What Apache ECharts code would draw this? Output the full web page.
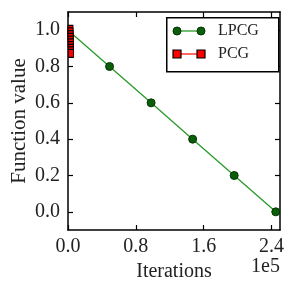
<!DOCTYPE html>
<html><head><meta charset="utf-8">
<script src="https://cdn.jsdelivr.net/npm/echarts@6/dist/echarts.min.js"></script>
<style>html,body{margin:0;padding:0;background:#fff}#c{width:296px;height:291px}</style>
</head><body><div id="c"></div>
<script>
const lpcgX = [0, 49000, 98000, 147000, 196000, 245000];
const lpcgY = [1.0, 0.8, 0.6, 0.4, 0.2, 0.0];
const pcgX = [0, 60, 120, 180, 240, 300, 360, 420, 480, 540];
const pcgY = [1.005, 0.99, 0.975, 0.96, 0.945, 0.93, 0.915, 0.9, 0.886, 0.872];
const xTicks = [0, 80000, 160000, 240000];
const yTicks = [0.0, 0.2, 0.4, 0.6, 0.8, 1.0];

const FONT = '"Liberation Serif", "DejaVu Serif", serif';
const chart = echarts.init(document.getElementById('c'), null, {renderer: 'canvas'});
const axisLine = {show: true, onZero: false, lineStyle: {color: '#000', width: 1.5}};
const tick = (vals) => ({show: true, inside: true, length: 5, customValues: vals, lineStyle: {color: '#000', width: 1.2}});
function xAxisBase(pos, labels) {
  return {
    type: 'value', position: pos, min: 0, max: 250000,
    axisLine: axisLine, axisTick: tick(xTicks), splitLine: {show: false},
    axisLabel: labels ? {show: true, customValues: xTicks, margin: 7, color: '#222', fontFamily: FONT, fontSize: 20,
      formatter: v => (v / 1e5).toFixed(1)} : {show: false}
  };
}
function yAxisBase(pos, labels) {
  return {
    type: 'value', position: pos, min: -0.1, max: 1.1,
    axisLine: axisLine, axisTick: tick(yTicks), splitLine: {show: false},
    axisLabel: labels ? {show: true, customValues: yTicks, margin: 8, color: '#222', fontFamily: FONT, fontSize: 20,
      formatter: v => v.toFixed(1)} : {show: false}
  };
}
const xa = xAxisBase('bottom', true);
xa.name = 'Iterations'; xa.nameLocation = 'middle'; xa.nameGap = 32; xa.nameMoveOverlap = false;
xa.nameTextStyle = {fontFamily: FONT, fontSize: 20, color: '#222'};
const ya = yAxisBase('left', true);
ya.name = 'Function value'; ya.nameLocation = 'middle'; ya.nameGap = 38; ya.nameMoveOverlap = false;
ya.nameTextStyle = {fontFamily: FONT, fontSize: 21, color: '#222'};

const greenDark = '#0a5e0a';
const lpcgData = lpcgX.map((x, i) => i === 0 ? {value: [x, lpcgY[i]], symbol: 'none'} : [x, lpcgY[i]]);
const option = {
  animation: false,
  grid: {left: 68, right: 16, top: 12, bottom: 61, containLabel: false, outerBoundsMode: 'none'},
  xAxis: [xa, xAxisBase('top', false)],
  yAxis: [ya, yAxisBase('right', false)],
  series: [
    {name: 'LPCG', type: 'line', data: lpcgData,
     symbol: 'circle', symbolSize: 8, showAllSymbol: true,
     lineStyle: {color: '#2a9a2a', width: 1.3},
     itemStyle: {color: greenDark, borderColor: '#033503', borderWidth: 1}, z: 2},
    {name: 'PCG', type: 'line', data: pcgX.map((x, i) => [x, pcgY[i]]),
     symbol: 'rect', symbolSize: [5, 8], symbolOffset: [2.5, 0], showAllSymbol: true,
     lineStyle: {color: '#ff0000', width: 1},
     itemStyle: {color: '#ff0000', borderColor: '#000', borderWidth: 1}, z: 3}
  ],
  graphic: [
    {type: 'rect', left: 166, top: 17, shape: {width: 112, height: 54}, style: {fill: '#fff', stroke: '#000', lineWidth: 1.5}, z: 10},
    {type: 'line', shape: {x1: 177, y1: 31, x2: 201, y2: 31}, style: {stroke: '#2a9a2a', lineWidth: 1.3}, z: 11},
    {type: 'circle', shape: {cx: 177, cy: 31, r: 4}, style: {fill: greenDark, stroke: '#033503', lineWidth: 1}, z: 12},
    {type: 'circle', shape: {cx: 201, cy: 31, r: 4}, style: {fill: greenDark, stroke: '#033503', lineWidth: 1}, z: 12},
    {type: 'text', x: 218, y: 31, style: {text: 'LPCG', font: '16px ' + FONT, fill: '#222', verticalAlign: 'middle'}, z: 12},
    {type: 'line', shape: {x1: 177, y1: 54, x2: 201, y2: 54}, style: {stroke: '#ff0000', lineWidth: 1.2}, z: 11},
    {type: 'rect', shape: {x: 173, y: 50, width: 8, height: 8}, style: {fill: '#ff0000', stroke: '#000', lineWidth: 1.2}, z: 12},
    {type: 'rect', shape: {x: 197, y: 50, width: 8, height: 8}, style: {fill: '#ff0000', stroke: '#000', lineWidth: 1.2}, z: 12},
    {type: 'text', x: 218, y: 54, style: {text: 'PCG', font: '16px ' + FONT, fill: '#222', verticalAlign: 'middle'}, z: 12},
    {type: 'text', right: 16, top: 257, style: {text: '1e5', font: '20px ' + FONT, fill: '#222'}, z: 12}
  ]
};
chart.setOption(option);
</script></body></html>
